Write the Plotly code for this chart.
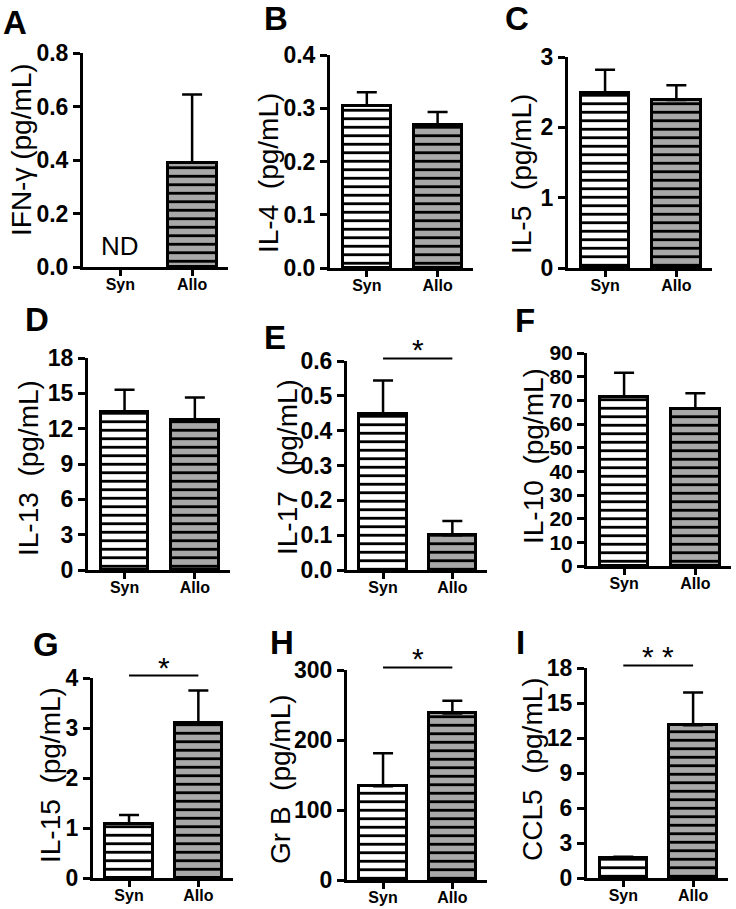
import plotly.graph_objects as go

# ---------------- data ----------------
panel_letters = ["A", "B", "C", "D", "E", "F", "G", "H", "I"]
y_titles = ["IFN-γ (pg/mL)", "IL-4  (pg/mL)", "IL-5  (pg/mL)", "IL-13  (pg/mL)",
            "IL-17  (pg/mL)", "IL-10  (pg/mL)", "IL-15  (pg/mL)", "Gr B  (pg/mL)",
            "CCL5  (pg/mL)"]
groups = ["Syn", "Allo"]
syn_mean = [None, 0.305, 2.49, 13.4, 0.448, 71.5, 1.09, 134, 1.69]
syn_sem = [None, 0.025, 0.33, 1.9, 0.096, 10.2, 0.17, 47, 0.14]
allo_mean = [0.39, 0.268, 2.39, 12.7, 0.10, 66.5, 3.10, 238, 13.1]
allo_sem = [0.255, 0.025, 0.21, 1.95, 0.041, 6.5, 0.65, 18, 2.8]
y_max = [0.8, 0.4, 3, 18, 0.6, 90, 4, 300, 18]
y_step = [0.2, 0.1, 1, 3, 0.1, 10, 1, 100, 3]
y_format = [".1f", ".1f", "d", "d", ".1f", "d", "d", "d", "d"]
significance = ["", "", "", "", "*", "", "*", "*", "* *"]
nd_label = ["ND", "", "", "", "", "", "", "", ""]

# ---------------- layout (pixel boxes) ----------------
W, H = 736, 909
# (x_left, x_right, y_top, y_bottom) of each axis box
boxes = [(83, 228, 53, 267), (330, 473, 55, 268), (568, 712, 57, 268),
         (88, 230, 358, 570), (347, 487, 361, 570), (587, 731, 353, 566),
         (93, 233, 678, 878), (347, 487, 670, 880), (587, 728, 668, 878)]
letter_pos = [(15, 22), (276, 19), (517, 19), (37, 319), (275, 337), (525, 321),
              (46, 644), (282, 642), (520, 642)]
title_pos = [(21, 150), (268, 173), (521, 174), (28, 468), (287, 467), (534, 456),
             (50, 775), (280, 779), (532, 769)]

FONT = "Arial, Liberation Sans, sans-serif"
GRAY = "#a8a8a8"

fig = go.Figure()
annotations = []
shapes = []

for i in range(9):
    n = "" if i == 0 else str(i + 1)
    xa, ya = "x" + n, "y" + n
    xl, xr, yt, yb = boxes[i]
    tick_size = 21 if y_max[i] == 90 else 23

    for g, (means, sems, bg) in enumerate([(syn_mean, syn_sem, "white"),
                                            (allo_mean, allo_sem, GRAY)]):
        if means[i] is None:
            continue
        fig.add_trace(go.Bar(
            x=[g], y=[means[i]], width=0.68, xaxis=xa, yaxis=ya,
            marker=dict(color=bg, line=dict(color="black", width=3),
                        pattern=dict(shape="-", fgcolor="black", bgcolor=bg,
                                     size=8.5, solidity=0.33, fillmode="replace")),
            error_y=dict(type="data", array=[sems[i]], arrayminus=[0],
                         symmetric=False, color="black", thickness=2.5, width=10),
            showlegend=False, hoverinfo="skip",
        ))

    fig.layout[("xaxis" + n)] = dict(
        domain=[xl / W, xr / W], range=[-0.52, 1.5], anchor=ya, automargin=False,
        tickvals=[0, 1], ticktext=groups, showline=True, linecolor="black",
        linewidth=3, ticks="outside", ticklen=6, tickwidth=3, tickcolor="black",
        ticklabelstandoff=-5,
        tickfont=dict(family=FONT, size=16, color="black", weight="bold"),
        showgrid=False, zeroline=False, fixedrange=True,
    )
    fig.layout[("yaxis" + n)] = dict(
        domain=[1 - yb / H, 1 - yt / H], range=[0, y_max[i]], anchor=xa,
        automargin=False,
        tick0=0, dtick=y_step[i], tickformat=y_format[i], showline=True,
        linecolor="black", linewidth=3, ticks="outside", ticklen=7, tickwidth=3,
        tickcolor="black",
        tickfont=dict(family=FONT, size=tick_size, color="black", weight="bold"),
        showgrid=False, zeroline=False, fixedrange=True,
    )

    lx, ly = letter_pos[i]
    annotations.append(dict(text=panel_letters[i], x=lx / W, y=1 - ly / H,
                            xref="paper", yref="paper", showarrow=False,
                            xanchor="center", yanchor="middle",
                            font=dict(family=FONT, size=33, color="black", weight="bold")))
    tx, ty = title_pos[i]
    annotations.append(dict(text=y_titles[i], x=tx / W, y=1 - ty / H,
                            xref="paper", yref="paper", showarrow=False,
                            textangle=-90, xanchor="center", yanchor="middle",
                            font=dict(family=FONT, size=28, color="black")))
    if nd_label[i]:
        annotations.append(dict(text=nd_label[i], x=0, y=0, xref=xa, yref=ya,
                                showarrow=False, yanchor="bottom", yshift=4,
                                font=dict(family=FONT, size=26, color="black")))
    if significance[i]:
        shapes.append(dict(type="line", x0=0, x1=1, y0=1.012, y1=1.012,
                           xref=xa, yref=ya + " domain",
                           line=dict(color="black", width=2)))
        annotations.append(dict(text=significance[i], x=0.5, y=1.012, xref=xa,
                                yref=ya + " domain", showarrow=False,
                                yanchor="bottom", yshift=-10,
                                font=dict(family=FONT, size=30, color="black")))

fig.update_layout(
    width=W, height=H, margin=dict(l=0, r=0, t=0, b=0, autoexpand=False),
    paper_bgcolor="white", plot_bgcolor="white", template="none",
    annotations=annotations, shapes=shapes, bargap=0,
)

fig.write_html("out.html", config={"displayModeBar": False},
               post_script="document.body.style.margin='0';"
                           "document.body.style.overflow='hidden';")
